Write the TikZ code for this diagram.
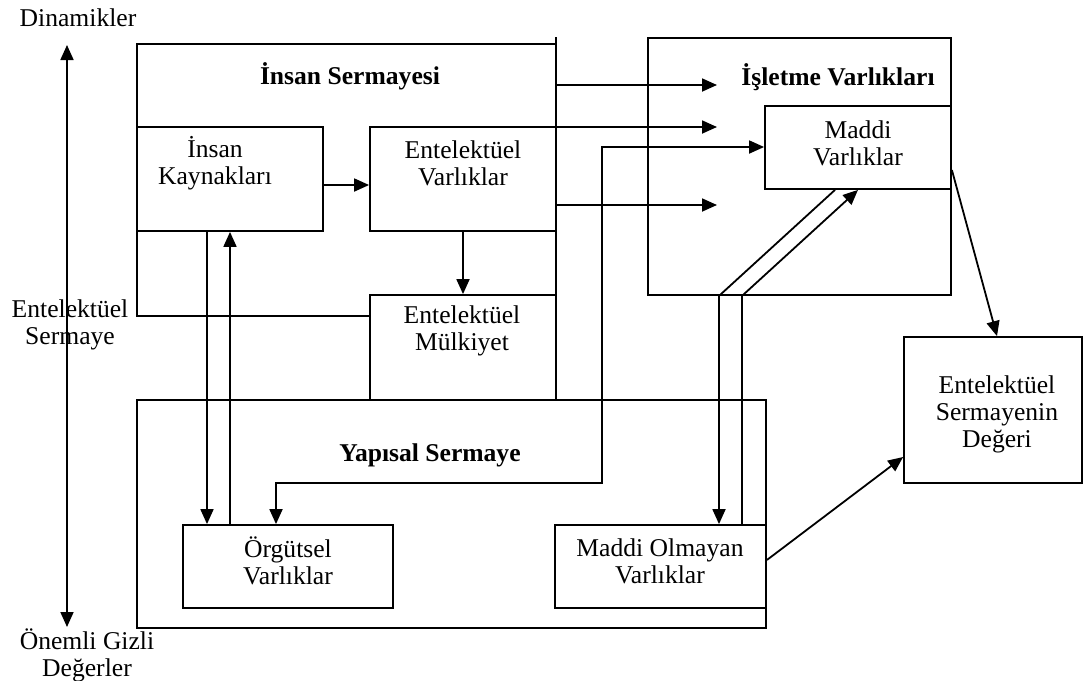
\documentclass[tikz,border=0pt]{standalone}
\usepackage{fontspec}
\setmainfont{Liberation Serif}
\usetikzlibrary{arrows.meta,fit}
\begin{document}
\begin{tikzpicture}[x=0.5pt,y=-0.5pt,
  line width=0.9pt,
  box/.style={draw, inner sep=0pt},
  lbl/.style={align=center, inner sep=0pt, font=\fontsize{12.8pt}{13.5pt}\selectfont},
  title/.style={align=center, inner sep=0pt, font=\fontsize{12.8pt}{13.5pt}\selectfont\bfseries},
  arr/.style={-{Triangle[length=7.5pt,width=6.5pt]}},
  darr/.style={{Triangle[length=7.5pt,width=6.5pt]}-{Triangle[length=7.5pt,width=6.5pt]}}]
\useasboundingbox (0,0) rectangle (1084,681);

% outer frames and boxes
\node[inner sep=0pt, outer sep=0pt, fit={(137,44) (556,316)}] (is) {};
\node[box, fit={(137,127) (323,231)}] (ik) {};
\node[box, fit={(370,127) (556,231)}] (ev) {};
\node[box, fit={(370,295) (556,400)}] (em) {};
\node[box, fit={(137,400) (766,628)}] (ys) {};
\node[box, fit={(183,525) (393,608)}] (ov) {};
\node[box, fit={(555,525) (766,608)}] (mov) {};
\node[box, fit={(648,38) (951,295)}] (iv) {};
\node[box, fit={(765,106) (951,189)}] (mv) {};
\node[box, fit={(904,337) (1082,483)}] (esd) {};

% open frame of the human capital block
\draw ([yshift=3.5pt]is.north east) -- (is.north east) -- (is.north west)
      -- (is.south west) -- (em.west |- is.south);
\draw (is.north east) -- (is.east |- em.south);

% titles
\node[title] (is-t) at (350,76) {İnsan Sermayesi};
\node[title] (iv-t) at (838,77) {İşletme Varlıkları};
\node[title] (ys-t) at (430,455) {Yapısal Sermaye};

% box texts
\node[lbl] (ik-t) at (215,163) {İnsan\\Kaynakları};
\node[lbl] (ev-t) at (463,163) {Entelektüel\\Varlıklar};
\node[lbl] (em-t) at (462,331) {Entelektüel\\Mülkiyet};
\node[lbl] (ov-t) at (288,561) {Örgütsel\\Varlıklar};
\node[lbl] (mov-t) at (660,561) {Maddi Olmayan\\Varlıklar};
\node[lbl] (mv-t) at (858,143) {Maddi\\Varlıklar};
\node[lbl] (esd-t) at (997,414) {Entelektüel\\Sermayenin\\Değeri};

% left axis
\node[lbl] (dyn) at (78,18) {Dinamikler};
\node[lbl] (es) at (70,325) {Entelektüel\\Sermaye};
\node[lbl] (ogd) at (87,655) {Önemli Gizli\\Değerler};
\coordinate (axtop) at (67,45);
\coordinate (axbot) at (67,627);
\draw[darr] (axtop) -- (axbot);

% connectors
\draw[arr] (ik.east |- 0,185) -- (ev.west |- 0,185);
\draw[arr] (ev.south) -- (em.north);
\draw[arr] (ik.south -| 207,0) -- (ov.north -| 207,0);
\draw[arr] (ov.north -| 230,0) -- (ik.south -| 230,0);

\coordinate (p1) at (717,85);
\coordinate (p2) at (717,127);
\coordinate (p3) at (717,205);
\draw[arr] (is.east |- p1) -- (p1);
\draw[arr] (is.east |- p2) -- (p2);
\draw[arr] (is.east |- p3) -- (p3);

\draw[darr] (ov.north -| 276,0) -- (276,483) -- (602,483) -- (602,147) -- (mv.west |- 0,147);

\draw[arr] (mv.south -| 835,0) -- (iv.south -| 719,0) -- (mov.north -| 719,0);
\draw[arr] (mov.north -| 742,0) -- (iv.south -| 742,0) -- (mv.south -| 858,0);

\draw[arr] (mv.east |- 0,170) -- (esd.north -| 997,0);
\draw[arr] (mov.east |- 0,560) -- (esd.west |- 0,457);
\end{tikzpicture}
\end{document}
